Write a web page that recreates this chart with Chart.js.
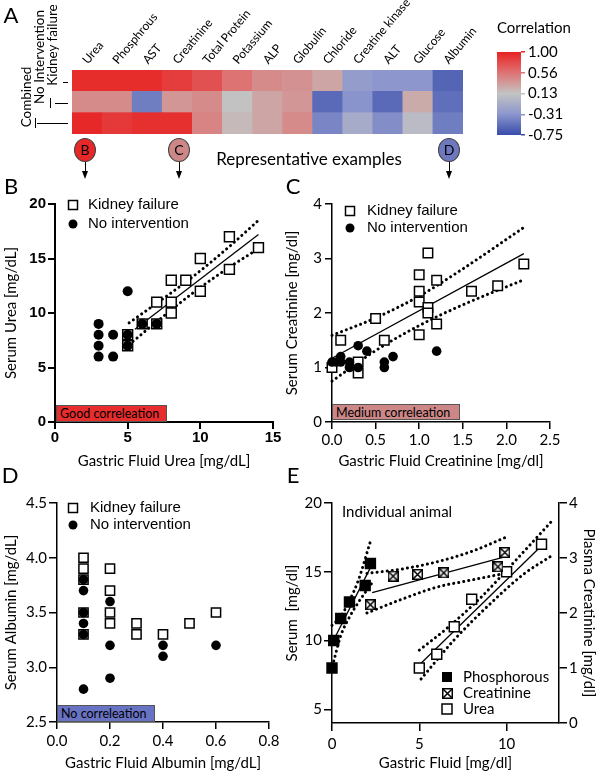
<!DOCTYPE html>
<html>
<head>
<meta charset="utf-8">
<title>Gastric fluid vs serum</title>
<script src="https://cdn.jsdelivr.net/npm/chart.js"></script>
<style>
  body { margin: 0; background: #fff; }
  #fig { position: relative; width: 600px; height: 775px; overflow: hidden; font-family: Lato, "Noto Sans", sans-serif; color: #000; }
  #fig canvas { position: absolute; }
  .t { position: absolute; white-space: nowrap; line-height: 1; }
  .c { transform: translate(-50%, -50%); }
  .m { transform: translateY(-50%); }
  .v { transform: translate(-50%, -50%) rotate(-90deg); font-size: 13.5px; }
  .letter { font-size: 22px; transform: translate(-50%, -50%); }
  .hl { position: absolute; background: #000; }
  .bubble { position: absolute; width: 22px; height: 24px; border: 1px solid #444; border-radius: 50%; font-size: 14px; text-align: center; line-height: 22px; box-sizing: border-box; }
  .stem { position: absolute; width: 1px; height: 10px; background: #000; }
  .head { position: absolute; width: 0; height: 0; border-left: 3.5px solid transparent; border-right: 3.5px solid transparent; border-top: 8px solid #000; }
  .tag { position: absolute; font-size: 12.5px; line-height: 15px; padding-left: 3px; border: 1px solid #555; box-sizing: border-box; white-space: nowrap; }
</style>
</head>
<body>
<div id="fig">
  <canvas id="heat" width="480" height="140" style="left:0;top:0"></canvas>
  <canvas id="cbar" width="120" height="125" style="left:480px;top:15px"></canvas>
  <canvas id="panelB" width="282" height="295" style="left:0;top:180px"></canvas>
  <canvas id="panelC" width="310" height="295" style="left:280px;top:180px"></canvas>
  <canvas id="panelD" width="280" height="295" style="left:0;top:480px"></canvas>
  <canvas id="panelE" width="320" height="295" style="left:280px;top:480px"></canvas>

  <div class="t letter" style="left:11px;top:15px">A</div>
  <div class="t v" style="left:53px;top:45px">Kidney failure</div>
  <div class="t v" style="left:40px;top:57px">No Intervention</div>
  <div class="t v" style="left:27px;top:97px">Combined</div>
  <div class="hl" style="left:63px;top:82px;width:5px;height:1px"></div>
  <div class="hl" style="left:55px;top:103px;width:13px;height:1px"></div>
  <div class="hl" style="left:50px;top:98px;width:1px;height:10px"></div>
  <div class="hl" style="left:37px;top:123px;width:31px;height:1px"></div>
  <div class="hl" style="left:35px;top:118px;width:1px;height:10px"></div>

  <div class="bubble" style="left:74px;top:138px;background:rgb(230,40,40)">B</div>
  <div class="stem" style="left:85px;top:162px"></div>
  <div class="head" style="left:82px;top:171px"></div>
  <div class="bubble" style="left:168px;top:138px;background:rgb(205,135,135)">C</div>
  <div class="stem" style="left:179px;top:162px"></div>
  <div class="head" style="left:176px;top:171px"></div>
  <div class="bubble" style="left:438px;top:138px;background:rgb(110,120,190)">D</div>
  <div class="stem" style="left:449px;top:162px"></div>
  <div class="head" style="left:446px;top:171px"></div>
  <div class="t c" style="left:309px;top:158px;font-size:17px">Representative examples</div>

  <div class="t letter" style="left:11px;top:186px">B</div>
  <div class="t letter" style="left:293px;top:186px">C</div>
  <div class="t letter" style="left:10px;top:475px">D</div>
  <div class="t letter" style="left:293px;top:475px">E</div>

  <div class="tag" style="left:56px;top:405px;width:111px;height:17px;background:rgb(232,45,45)">Good correleation</div>
  <div class="tag" style="left:332px;top:404px;width:128px;height:16px;background:rgb(205,135,135)">Medium correleation</div>
  <div class="tag" style="left:57px;top:705px;width:98px;height:17px;background:rgb(105,115,195)">No correleation</div>
  <div class="t m" style="left:342px;top:511px;font-size:15px">Individual animal</div>
</div>

<script>
// ---------- A: correlation heatmap ----------
var analytes = ['Urea','Phosphrous','AST','Creatinine','Total Protein','Potassium','ALP','Globulin','Chloride','Creatine kinase','ALT','Glucose','Albumin'];
var corrKidney   = [0.95, 0.95, 0.95, 0.86, 0.75, 0.56, 0.43, 0.40, 0.29, -0.25, -0.30, -0.30, -0.60];
var corrNoInterv = [0.43, 0.43, -0.46, 0.37, 0.43, 0.13, 0.29, 0.37, -0.57, -0.33, -0.57, 0.26, -0.54];
var corrCombined = [0.97, 0.88, 0.93, 0.93, 0.47, 0.18, 0.29, 0.43, -0.41, -0.11, -0.36, 0.05, -0.46];
var colorTicks = [-0.75, -0.3125, 0.125, 0.5625, 1.0];
var colorTickLabels = ['-0.75', '-0.31', '0.13', '0.56', '1.00'];
var colorStops = [[55,75,170], [140,150,205], [195,195,195], [222,115,115], [232,35,35]];

// ---------- B: urea ----------
var ureaKfX = [5, 5, 6, 7, 7, 8, 8, 8, 9, 10, 10, 12, 12, 14];
var ureaKfY = [8, 7, 9, 9, 11, 13, 11, 10, 13, 15, 12, 17, 14, 16];
var ureaNoX = [3, 3, 3, 3, 4, 4, 5, 5, 5, 6, 7];
var ureaNoY = [9, 8, 7, 6, 8, 6, 12, 8, 7, 9, 9];
var ureaFitX = [5.5, 14], ureaFitY = [8.5, 17.2];
var ureaUpX = [5.1, 7, 9.5, 12, 14], ureaUpY = [9.1, 10.9, 13.35, 16.1, 18.5];
var ureaLoX = [5.1, 7, 9.5, 12, 14], ureaLoY = [7.1, 9.2, 11.85, 14.2, 15.9];
var ureaXTicks = [0, 5, 10, 15], ureaXLabels = ['0', '5', '10', '15'];
var ureaYTicks = [0, 5, 10, 15, 20], ureaYLabels = ['0', '5', '10', '15', '20'];

// ---------- C: creatinine ----------
var creaKfX = [0, 0.1, 0.3, 0.3, 0.5, 0.6, 1.0, 1.0, 1.0, 1.0, 1.1, 1.1, 1.1, 1.2, 1.2, 1.6, 1.9, 2.2];
var creaKfY = [1.0, 1.5, 0.9, 1.1, 1.9, 1.5, 2.7, 2.4, 2.2, 1.6, 3.1, 2.1, 2.0, 2.6, 1.8, 2.4, 2.5, 2.9];
var creaNoX = [0, 0.05, 0.1, 0.1, 0.2, 0.2, 0.3, 0.3, 0.4, 0.6, 0.6, 0.7, 1.2];
var creaNoY = [1.1, 1.1, 1.2, 1.1, 1.1, 1.0, 1.4, 1.0, 1.3, 1.1, 1.0, 1.2, 1.3];
var creaFitX = [0, 2.2], creaFitY = [1.17, 3.09];
var creaUpX = [0, 0.5, 1.0, 1.5, 2.2], creaUpY = [1.59, 1.91, 2.31, 2.81, 3.57];
var creaLoX = [0, 0.5, 1.0, 1.5, 2.2], creaLoY = [0.75, 1.31, 1.77, 2.15, 2.61];
var creaXTicks = [0, 0.5, 1, 1.5, 2, 2.5], creaXLabels = ['0.0', '0.5', '1.0', '1.5', '2.0', '2.5'];
var creaYTicks = [0, 1, 2, 3, 4], creaYLabels = ['0', '1', '2', '3', '4'];

// ---------- D: albumin ----------
var albKfX = [0.1, 0.1, 0.1, 0.1, 0.1, 0.2, 0.2, 0.2, 0.2, 0.3, 0.3, 0.4, 0.5, 0.6];
var albKfY = [4.0, 3.9, 3.8, 3.5, 3.3, 3.9, 3.7, 3.5, 3.4, 3.4, 3.3, 3.3, 3.4, 3.5];
var albNoX = [0.1, 0.1, 0.1, 0.1, 0.1, 0.1, 0.2, 0.2, 0.2, 0.4, 0.4, 0.6];
var albNoY = [3.8, 3.7, 3.5, 3.4, 3.3, 2.8, 3.6, 3.2, 2.9, 3.2, 3.1, 3.2];
var albXTicks = [0, 0.2, 0.4, 0.6, 0.8], albXLabels = ['0.0', '0.2', '0.4', '0.6', '0.8'];
var albYTicks = [2.5, 3.0, 3.5, 4.0, 4.5], albYLabels = ['2.5', '3.0', '3.5', '4.0', '4.5'];

// ---------- E: individual animal ----------
var phosX = [0, 0.1, 0.5, 1.0, 1.9, 2.2];
var phosY = [8, 10, 11.6, 12.8, 14, 15.6];
var phosFitX = [0, 2.2], phosFitY = [9.8, 15.3];
var phosUpX = [0, 0.5, 1.0, 1.5, 2.2], phosUpY = [11.1, 11.75, 12.9, 14.35, 17.2];
var phosLoX = [0.1, 0.5, 1.0, 1.5, 2.3], phosLoY = [8.5, 10.35, 11.7, 12.75, 14.2];
var creatX = [2.2, 3.5, 4.9, 6.4, 9.5, 9.9];
var creatY = [2.15, 2.67, 2.7, 2.73, 2.84, 3.1];
var creatFitX = [2.3, 10], creatFitY = [2.37, 3.03];
var creatUpX = [2.0, 4, 6, 8, 9.9], creatUpY = [2.72, 2.8, 2.93, 3.12, 3.37];
var creatLoX = [2.0, 4, 6, 8, 9.9], creatLoY = [2.0, 2.25, 2.47, 2.6, 2.72];
var ureaEX = [5, 6, 7, 8, 10, 12];
var ureaEY = [8, 9, 11, 13, 15, 17];
var ureaEFitX = [5.1, 12.06], ureaEFitY = [8.35, 16.97];
var ureaEUpX = [5, 6.5, 8.5, 10.5, 12.6], ureaEUpY = [9.3, 10.8, 13.1, 15.8, 18.7];
var ureaELoX = [5.1, 7, 9, 11, 12.5], ureaELoY = [7.2, 10.05, 12.6, 14.85, 16.1];
var eXTicks = [0, 5, 10], eXLabels = ['0', '5', '10'];
var eYTicks = [5, 10, 15, 20], eYLabels = ['5', '10', '15', '20'];
var eY2Ticks = [0, 1, 2, 3, 4], eY2Labels = ['0', '1', '2', '3', '4'];


Chart.defaults.font.family = 'Lato, "Noto Sans", sans-serif';
Chart.defaults.color = '#000';

function corrColor(v) {
    var i = 0;
    while (i < colorTicks.length - 2 && v > colorTicks[i + 1]) i++;
    var t = (v - colorTicks[i]) / (colorTicks[i + 1] - colorTicks[i]);
    t = Math.max(0, Math.min(1, t));
    var a = colorStops[i], b = colorStops[i + 1];
    return 'rgb(' + [0, 1, 2].map(function (k) { return Math.round(a[k] + (b[k] - a[k]) * t); }).join(',') + ')';
}

function xy(xs, ys) {
    return xs.map(function (x, i) { return {x: x, y: ys[i]}; });
}

function crossedSquare(side) {
    var c = document.createElement('canvas');
    c.width = side; c.height = side;
    var g = c.getContext('2d');
    g.fillStyle = '#fff'; g.fillRect(0, 0, side, side);
    g.strokeStyle = '#000'; g.lineWidth = 1.5;
    g.strokeRect(0.75, 0.75, side - 1.5, side - 1.5);
    g.beginPath();
    g.moveTo(1, 1); g.lineTo(side - 1, side - 1);
    g.moveTo(side - 1, 1); g.lineTo(1, side - 1);
    g.stroke();
    return c;
}
var crossImg = crossedSquare(11);

function drawMark(ctx, mark, x, y, s) {
    var h = s / 2;
    ctx.lineWidth = 1.5;
    ctx.strokeStyle = '#000';
    if (mark === 'circle') {
        ctx.fillStyle = '#000';
        ctx.beginPath(); ctx.arc(x, y, h, 0, Math.PI * 2); ctx.fill();
    } else if (mark === 'filled') {
        ctx.fillStyle = '#000';
        ctx.fillRect(x - h, y - h, s, s);
    } else if (mark === 'crossed') {
        ctx.drawImage(crossImg, Math.round(x - crossImg.width / 2), Math.round(y - crossImg.height / 2));
    } else {
        ctx.fillStyle = '#fff';
        ctx.fillRect(x - h, y - h, s, s);
        ctx.strokeRect(x - h, y - h, s, s);
    }
}

// legend drawn inside the plot area
var insideLegend = {
    id: 'insideLegend',
    afterDraw: function (chart, args, o) {
        if (!o.items) return;
        var ctx = chart.ctx, a = chart.chartArea;
        ctx.save();
        ctx.font = o.font;
        ctx.textBaseline = 'middle';
        o.items.forEach(function (it, i) {
            var x = a.left + o.dx, y = a.top + o.dy + i * o.gap;
            drawMark(ctx, it.mark, x, y, o.size);
            ctx.fillStyle = '#000';
            ctx.fillText(chart.data.datasets[it.ds].label, x + o.textGap, y);
        });
        ctx.restore();
    }
};

function axis(pos, min, max, ticks, labels, o) {
    var vertical = pos !== 'bottom';
    return {
        type: 'linear', position: pos, min: min, max: max,
        afterBuildTicks: function (s) { s.ticks = ticks.map(function (v) { return {value: v}; }); },
        afterFit: function (s) {
            if (vertical) { s.width = o.size; s.paddingTop = 0; s.paddingBottom = 0; }
            else { s.height = o.size; s.paddingLeft = 0; s.paddingRight = 0; }
        },
        ticks: {callback: function (v, i) { return labels[i]; }, color: '#000', font: o.tickFont, padding: o.tickPad, maxRotation: 0, autoSkip: false},
        grid: {drawOnChartArea: false, tickLength: o.tickLen || 7, color: '#000', lineWidth: o.lw},
        border: {color: '#000', width: o.lw},
        title: {display: true, text: o.title, color: '#000', font: {size: 15},
            padding: vertical ? {top: o.titlePad, bottom: 0} : {top: 0, bottom: o.titlePad}}
    };
}

function fitLine(xs, ys, axisId) {
    return {label: 'fit', data: xy(xs, ys), yAxisID: axisId || 'y', showLine: true, pointRadius: 0,
        borderColor: '#000', borderWidth: 1.3, clip: false, order: 5};
}
function band(xs, ys, axisId) {
    return {label: 'CI', data: xy(xs, ys), yAxisID: axisId || 'y', showLine: true, pointRadius: 0,
        borderColor: '#000', borderWidth: 3, borderDash: [0.1, 5], borderCapStyle: 'round',
        tension: 0.4, cubicInterpolationMode: 'monotone', clip: false, order: 6};
}
function squares(label, xs, ys, r, axisId, fill) {
    return {label: label, data: xy(xs, ys), yAxisID: axisId || 'y', pointStyle: 'rect', pointRadius: r,
        backgroundColor: fill || '#fff', borderColor: '#000', borderWidth: 1.5, clip: false, order: 2};
}
function dots(label, xs, ys, r) {
    return {label: label, data: xy(xs, ys), pointStyle: 'circle', pointRadius: r,
        backgroundColor: '#000', borderColor: '#000', borderWidth: 0, clip: false, order: 1};
}

var base = {responsive: false, animation: false, events: []};
var noLegend = {legend: {display: false}, tooltip: {enabled: false}};

// ---------- A ----------
new Chart('heat', {
    type: 'bar',
    data: {
        labels: analytes,
        datasets: [
            {label: 'Combined', data: analytes.map(function () { return 1; }), backgroundColor: corrCombined.map(corrColor)},
            {label: 'No Intervention', data: analytes.map(function () { return 1; }), backgroundColor: corrNoInterv.map(corrColor)},
            {label: 'Kidney failure', data: analytes.map(function () { return 1; }), backgroundColor: corrKidney.map(corrColor)}
        ]
    },
    options: Object.assign({}, base, {
        datasets: {bar: {barPercentage: 1, categoryPercentage: 1, borderWidth: 0}},
        layout: {padding: {left: 72, right: 17, top: 0, bottom: 6}},
        plugins: noLegend,
        scales: {
            x: {stacked: true, position: 'top', grid: {display: false, drawTicks: false}, border: {display: false},
                ticks: {autoSkip: false, minRotation: 50, maxRotation: 50, labelOffset: 9, padding: 3, color: '#000', font: {size: 12}},
                afterFit: function (s) { s.height = 70; s.paddingLeft = 0; s.paddingRight = 0; }},
            y: {stacked: true, display: false, min: 0, max: 3}
        }
    })
});

new Chart('cbar', {
    type: 'bar',
    data: {
        labels: [''],
        datasets: [{
            data: [[colorTicks[0], colorTicks[colorTicks.length - 1]]],
            barPercentage: 1, categoryPercentage: 1, borderWidth: 0,
            backgroundColor: function (c) {
                var a = c.chart.chartArea;
                if (!a) return '#ccc';
                var g = c.chart.ctx.createLinearGradient(0, a.bottom, 0, a.top);
                var lo = colorTicks[0], hi = colorTicks[colorTicks.length - 1];
                colorTicks.forEach(function (v) { g.addColorStop((v - lo) / (hi - lo), corrColor(v)); });
                return g;
            }
        }]
    },
    options: Object.assign({}, base, {
        layout: {padding: {left: 17, bottom: 5}},
        plugins: {
            legend: {display: false}, tooltip: {enabled: false},
            title: {display: true, text: 'Correlation', align: 'start', color: '#000',
                font: {size: 15, weight: 'normal'}, padding: {top: 4, bottom: 15}}
        },
        scales: {
            x: {display: false},
            y: {position: 'right', min: colorTicks[0], max: colorTicks[colorTicks.length - 1],
                afterBuildTicks: function (s) { s.ticks = colorTicks.map(function (v) { return {value: v}; }); },
                afterFit: function (s) { s.width = 79; s.paddingTop = 0; s.paddingBottom = 0; },
                ticks: {callback: function (v, i) { return colorTickLabels[i]; }, color: '#000', font: {size: 15}, padding: 3, autoSkip: false},
                grid: {drawOnChartArea: false, tickLength: 4, lineWidth: 1.5,
                    color: function (c) { return c.tick ? corrColor(c.tick.value) : '#000'; }},
                border: {display: false}}
        }
    })
});

// ---------- B ----------
var boldTick = {family: '"Liberation Sans", Arial, sans-serif', weight: 'bold', size: 15};
new Chart('panelB', {
    type: 'scatter',
    data: {datasets: [
        dots('No intervention', ureaNoX, ureaNoY, 5),
        squares('Kidney failure', ureaKfX, ureaKfY, 7),
        fitLine(ureaFitX, ureaFitY), band(ureaUpX, ureaUpY), band(ureaLoX, ureaLoY)
    ]},
    options: Object.assign({}, base, {
        layout: {padding: {top: 24, right: 9}},
        plugins: Object.assign({}, noLegend, {insideLegend: {items: [{ds: 1, mark: 'square'}, {ds: 0, mark: 'circle'}],
            dx: 18, dy: 1, gap: 19, size: 9, textGap: 15, font: '15px "Liberation Sans", Arial'}}),
        scales: {
            x: axis('bottom', 0, 15, ureaXTicks, ureaXLabels, {size: 53, tickFont: boldTick, tickPad: 0, lw: 2, title: 'Gastric Fluid Urea [mg/dL]', titlePad: 5}),
            y: axis('left', 0, 20, ureaYTicks, ureaYLabels, {size: 55, tickFont: boldTick, tickPad: 2, lw: 2, title: 'Serum Urea [mg/dL]', titlePad: 2})
        }
    }),
    plugins: [insideLegend]
});

// ---------- C ----------
new Chart('panelC', {
    type: 'scatter',
    data: {datasets: [
        dots('No intervention', creaNoX, creaNoY, 4.8),
        squares('Kidney failure', creaKfX, creaKfY, 6.7),
        fitLine(creaFitX, creaFitY), band(creaUpX, creaUpY), band(creaLoX, creaLoY)
    ]},
    options: Object.assign({}, base, {
        layout: {padding: {top: 24, right: 40}},
        plugins: Object.assign({}, noLegend, {insideLegend: {items: [{ds: 1, mark: 'square'}, {ds: 0, mark: 'circle'}],
            dx: 18, dy: 7, gap: 17, size: 9, textGap: 17, font: '15px "Liberation Sans", Arial'}}),
        scales: {
            x: axis('bottom', 0, 2.5, creaXTicks, creaXLabels, {size: 53, tickFont: {size: 15}, tickPad: 2, lw: 1.5, title: 'Gastric Fluid Creatinine [mg/dl]', titlePad: 5}),
            y: axis('left', 0, 4, creaYTicks, creaYLabels, {size: 52, tickFont: {size: 15}, tickPad: 3, lw: 1.5, title: 'Serum Creatinine [mg/dl]', titlePad: 3})
        }
    }),
    plugins: [insideLegend]
});

// ---------- D ----------
new Chart('panelD', {
    type: 'scatter',
    data: {datasets: [
        dots('No intervention', albNoX, albNoY, 4.8),
        squares('Kidney failure', albKfX, albKfY, 6.5)
    ]},
    options: Object.assign({}, base, {
        layout: {padding: {top: 23, right: 11}},
        plugins: Object.assign({}, noLegend, {insideLegend: {items: [{ds: 1, mark: 'square'}, {ds: 0, mark: 'circle'}],
            dx: 16, dy: 5, gap: 17, size: 9, textGap: 17, font: '15px "Liberation Sans", Arial'}}),
        scales: {
            x: axis('bottom', 0, 0.8, albXTicks, albXLabels, {size: 53, tickFont: {size: 15}, tickPad: 3, lw: 1.5, title: 'Gastric Fluid Albumin [mg/dL]', titlePad: 3}),
            y: axis('left', 2.5, 4.5, albYTicks, albYLabels, {size: 57, tickFont: {size: 15}, tickPad: 2, lw: 1.5, tickLen: 8, title: 'Serum Albumin [mg/dL]', titlePad: 2})
        }
    }),
    plugins: [insideLegend]
});

// ---------- E ----------
new Chart('panelE', {
    type: 'scatter',
    data: {datasets: [
        squares('Phosphorous', phosX, phosY, 7, 'y', '#000'),
        Object.assign(squares('Creatinine', creatX, creatY, 7, 'y2'), {pointStyle: crossImg}),
        squares('Urea', ureaEX, ureaEY, 7),
        fitLine(phosFitX, phosFitY), band(phosUpX, phosUpY), band(phosLoX, phosLoY),
        fitLine(creatFitX, creatFitY, 'y2'), band(creatUpX, creatUpY, 'y2'), band(creatLoX, creatLoY, 'y2'),
        fitLine(ureaEFitX, ureaEFitY), band(ureaEUpX, ureaEUpY), band(ureaELoX, ureaELoY)
    ]},
    options: Object.assign({}, base, {
        layout: {padding: {top: 23}},
        plugins: Object.assign({}, noLegend, {insideLegend: {items: [{ds: 0, mark: 'filled'}, {ds: 1, mark: 'crossed'}, {ds: 2, mark: 'square'}],
            dx: 115, dy: 174, gap: 16, size: 10, textGap: 16, font: '15px Lato'}}),
        scales: {
            x: axis('bottom', 0, 13, eXTicks, eXLabels, {size: 52, tickFont: {size: 15}, tickPad: 4, lw: 1.5, tickLen: 8, title: 'Gastric Fluid [mg/dl]', titlePad: 3}),
            y: axis('left', 4, 20, eYTicks, eYLabels, {size: 52, tickFont: {size: 15}, tickPad: 2, lw: 1.5, tickLen: 8, title: 'Serum  [mg/dl]', titlePad: 3}),
            y2: axis('right', 0, 4, eY2Ticks, eY2Labels, {size: 41, tickFont: {size: 15}, tickPad: 2, lw: 1.5, tickLen: 8, title: 'Plasma Creatinine [mg/dl]', titlePad: 2})
        }
    }),
    plugins: [insideLegend]
});
</script>
</body>
</html>
